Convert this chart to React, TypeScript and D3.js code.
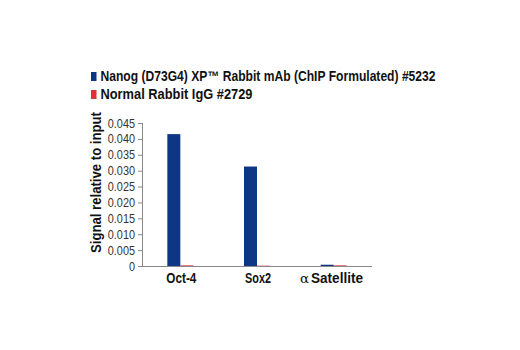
import React from "react";
import * as d3 from "d3";

const categories = ["Oct-4", "Sox2", "α Satellite"];
const seriesNames = ["Nanog (D73G4) XP™ Rabbit mAb (ChIP Formulated) #5232", "Normal Rabbit IgG #2729"];
const nanogValues = [0.0415, 0.0313, 0.0004];
const iggValues = [0.0002, 0.0001, 0.0002];
const yTicks = [0, 0.005, 0.01, 0.015, 0.02, 0.025, 0.03, 0.035, 0.04, 0.045];
const colors = ["#0d3684", "#e0303a"];

export default function App() {
  const W = 520, H = 350;
  const x0 = 142, x1 = 372, yTop = 123, yBot = 266;
  const y = d3.scaleLinear().domain([0, 0.045]).range([yBot, yTop]);
  const xb = d3.scaleBand().domain(categories).range([x0, x1]);
  const inner = d3.scaleBand().domain(["0", "1"]).range([-13, 13]);
  const font = "'Liberation Sans', Arial, sans-serif";
  const series = [nanogValues, iggValues];
  const legendLens = [335, 152];
  const catLens: Record<string, number> = { "Oct-4": 30, "Sox2": 26 };
  return (
    <svg width={W} height={H} style={{ position: "absolute", left: 0, top: 0 }} fontFamily={font}>
      <rect width={W} height={H} fill="#fff" />
      {/* legend */}
      {seriesNames.map((n, i) => (
        <g key={n}>
          <rect x={91} y={72 + i * 18} width={5.5} height={9} fill={colors[i]} />
          <text x={100.5} y={81.3 + i * 18} fontSize={14} fontWeight="bold" fill="#111"
            textLength={legendLens[i]} lengthAdjust="spacingAndGlyphs">{n}</text>
        </g>
      ))}
      {/* bars */}
      {categories.map((c, ci) => (
        <g key={c}>
          {series.map((vals, si) => {
            const cx = (xb(c) as number) + xb.bandwidth() / 2;
            const bx = cx + (inner(String(si)) as number);
            return <rect key={si} x={bx} y={y(vals[ci])} width={inner.bandwidth()} height={yBot - y(vals[ci])} fill={colors[si]} />;
          })}
        </g>
      ))}
      {/* axes */}
      <line x1={x0 + 0.5} x2={x0 + 0.5} y1={yTop} y2={yBot} stroke="#888" />
      <line x1={x0} x2={x1} y1={yBot + 0.5} y2={yBot + 0.5} stroke="#888" />
      {yTicks.map((t) => (
        <g key={t}>
          <line x1={x0 - 4} x2={x0} y1={y(t) + 0.5} y2={y(t) + 0.5} stroke="#888" />
          <g transform={`translate(${x0 - 7}, ${y(t) + 4.5}) scale(0.87, 1)`}>
            <text textAnchor="end" fontSize={12.5} fill="#333">{t === 0 ? "0" : d3.format(".3f")(t)}</text>
          </g>
        </g>
      ))}
      {categories.map((c) => {
        const cx = (xb(c) as number) + xb.bandwidth() / 2;
        if (c.startsWith("α")) {
          return (
            <g key={c}>
              <text x={300} y={283} fontSize={13.5} fill="#111" fontFamily="'DejaVu Serif', serif">α</text>
              <text x={311} y={283} fontSize={14} fontWeight="bold" fill="#111"
                textLength={52} lengthAdjust="spacingAndGlyphs">{c.slice(2)}</text>
            </g>
          );
        }
        return <text key={c} x={cx + 1} y={283} textAnchor="middle" fontSize={14} fontWeight="bold" fill="#111"
          textLength={catLens[c]} lengthAdjust="spacingAndGlyphs">{c}</text>;
      })}
      <text transform={`translate(101, 182.5) rotate(-90)`} textAnchor="middle" fontSize={14} fontWeight="bold" fill="#111"
        textLength={141} lengthAdjust="spacingAndGlyphs">Signal relative to input</text>
    </svg>
  );
}
